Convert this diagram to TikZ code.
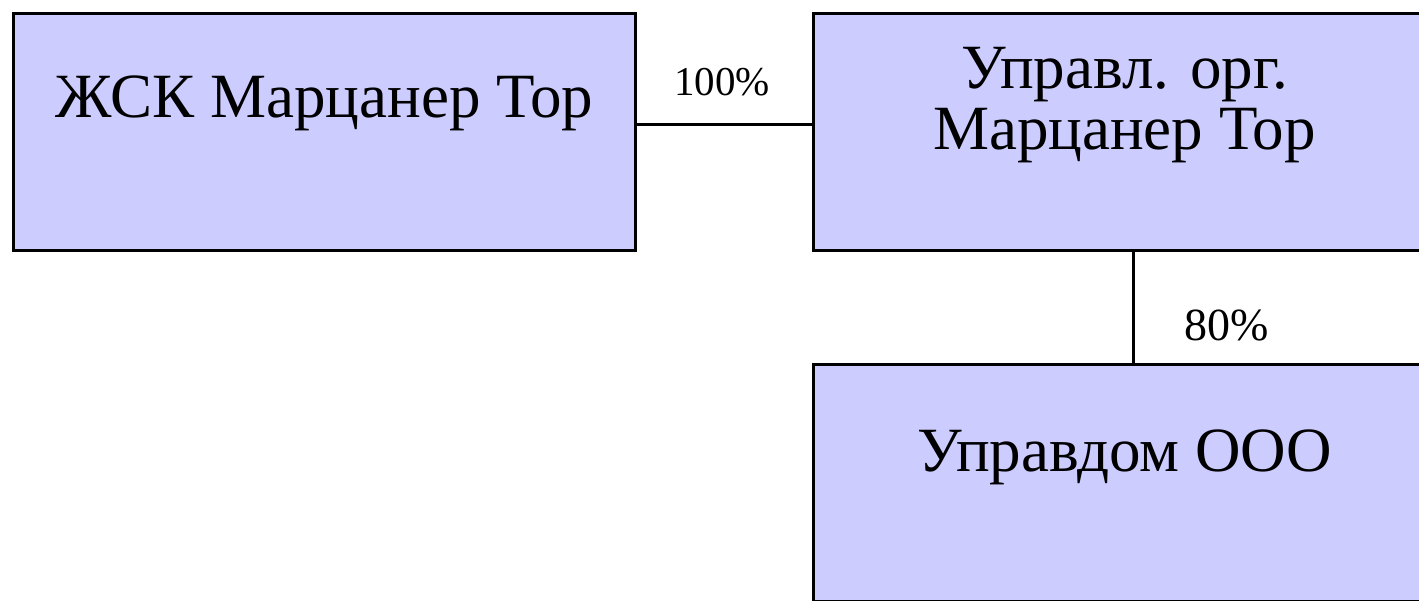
\documentclass[tikz,border=0pt]{standalone}
\usepackage{fontspec}
\setmainfont{Liberation Serif}
\usetikzlibrary{calc}
\definecolor{boxfill}{HTML}{CCCCFF}
\tikzset{
  orgbox/.style={draw=black, fill=boxfill, line width=3pt, rectangle, inner sep=0pt, minimum width=622pt, minimum height=237pt},
  boxtext/.style={font=\fontsize{63}{61}\selectfont, inner sep=0pt, align=center, anchor=base},
  pct/.style={inner sep=0pt, anchor=base},
  link/.style={line width=3pt}
}
\begin{document}
\begin{tikzpicture}[x=1pt, y=-1pt]
\clip (0,0) rectangle (1419,600);
\fill[white] (0,0) rectangle (1419,600);
\node[orgbox] (zsk) at (324.5,132) {};
\node[orgbox] (upr) at (1124.5,132) {};
\node[orgbox] (dom) at (1124.5,483) {};
\node[boxtext] (zsktxt) at (324.5,117) {ЖСК Марцанер Тор};
\node[boxtext] (uprtxt) at (1124.5,149) {Управл. орг.\\Марцанер Тор};
\node[boxtext] (domtxt) at (1124.5,471) {Управдом ООО};
\coordinate (v) at (1133,0);
\coordinate (h) at (0,124);
\draw[link] (zsk.east |- h) -- (upr.west |- h);
\draw[link] (upr.south -| v) -- (dom.north -| v);
\node[pct, font=\fontsize{41}{45}\selectfont] (p100) at (722,95) {100\%};
\node[pct, font=\fontsize{46}{50}\selectfont] (p80) at (1227,340) {80\%};
\end{tikzpicture}
\end{document}
